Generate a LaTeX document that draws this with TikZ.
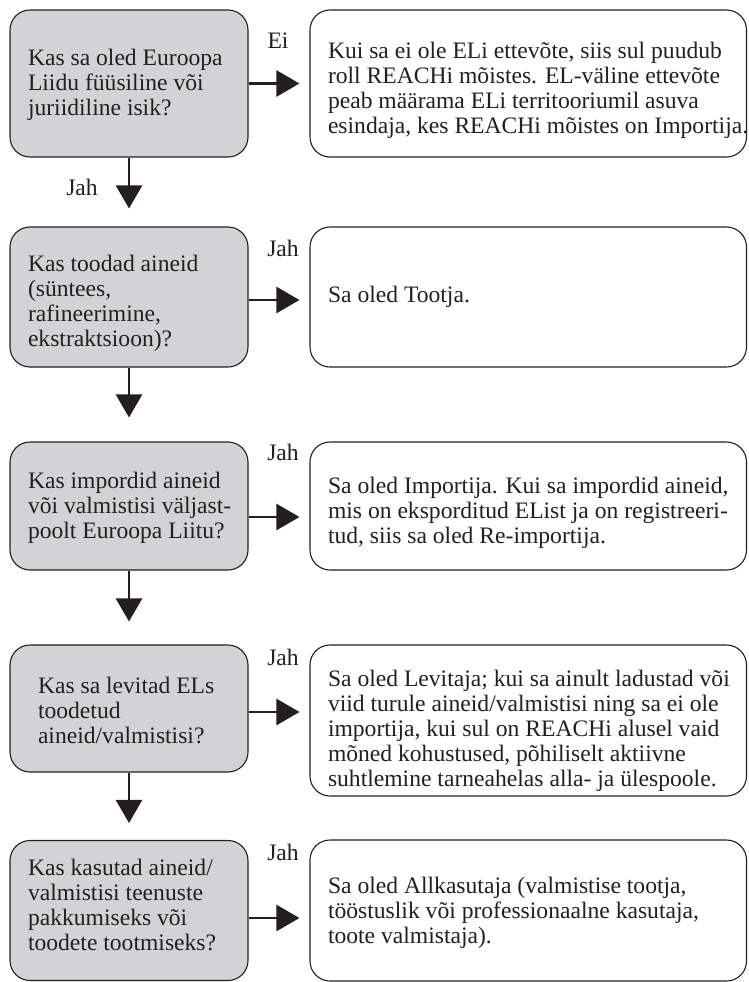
\documentclass[tikz,border=0pt]{standalone}
\usepackage{fontspec}
\setmainfont{Liberation Serif}
\usetikzlibrary{arrows.meta}
\definecolor{boxgray}{HTML}{D1D3D4}
\definecolor{ink}{HTML}{231F20}
\newcommand\btxt[3]{\makebox[#1][l]{\raisebox{#2}[\height][\depth]{\parbox[c]{440pt}{\raggedright #3}}}}
\begin{document}
\begin{tikzpicture}[x=1pt,y=-1pt,
  font=\fontsize{23.6}{25}\selectfont, color=ink,
  basebox/.style={draw=ink, line width=1.1pt, rounded corners=20pt, inner sep=0pt, text=ink},
  qbox/.style={basebox, fill=boxgray, minimum width=238pt},
  abox/.style={basebox, fill=white, minimum width=436.5pt},
  arr/.style={draw=ink, line width=2.6pt, -{Triangle[length=23pt,width=26pt]}},
  lbl/.style={inner sep=0pt, text=ink}]
\useasboundingbox (0,0) rectangle (748,982);
% question boxes
\node[qbox, minimum height=147pt] (q1) at (129,83.5) {\btxt{202pt}{-1.5pt}{Kas sa oled Euroopa\\Liidu füüsiline või\\juriidiline isik?}};
\node[qbox, minimum height=140pt] (q2) at (129,297) {\btxt{202pt}{-6pt}{Kas toodad aineid\\(süntees,\\rafineerimine,\\ekstraktsioon)?}};
\node[qbox, minimum height=128pt] (q3) at (129,506) {\btxt{202pt}{-1.5pt}{Kas impordid aineid\\või valmistisi väljast-\\poolt Euroopa Liitu?}};
\node[qbox, minimum height=127pt] (q4) at (129,708.5) {\btxt{182pt}{-1.5pt}{Kas sa levitad ELs\\toodetud\\aineid/valmistisi?}};
\node[qbox, minimum height=140pt] (q5) at (129,910.5) {\btxt{202pt}{5.5pt}{Kas kasutad aineid/\\valmistisi teenuste\\pakkumiseks või\\toodete tootmiseks?}};
% answer boxes
\node[abox, minimum height=147pt] (a1) at (528.25,83.5) {\btxt{400.5pt}{-7pt}{Kui sa ei ole ELi ettevõte, siis sul puudub\\roll REACHi mõistes. EL-väline ettevõte\\peab määrama ELi territooriumil asuva\\esindaja, kes REACHi mõistes on Importija.}};
\node[abox, minimum height=140pt] (a2) at (528.25,297) {\btxt{400.5pt}{0pt}{Sa oled Tootja.}};
\node[abox, minimum height=128pt] (a3) at (528.25,506) {\btxt{400.5pt}{-7pt}{Sa oled Importija. Kui sa impordid aineid,\\mis on eksporditud EList ja on registreeri-\\tud, siis sa oled Re-importija.}};
\node[abox, minimum height=151pt] (a4) at (528.25,720.5) {\btxt{400.5pt}{-10pt}{Sa oled Levitaja; kui sa ainult ladustad või\\viid turule aineid/valmistisi ning sa ei ole\\importija, kui sul on REACHi alusel vaid\\mõned kohustused, põhiliselt aktiivne\\suhtlemine tarneahelas alla- ja ülespoole.}};
\node[abox, minimum height=141pt] (a5) at (528.25,910.5) {\btxt{400.5pt}{-2pt}{Sa oled Allkasutaja (valmistise tootja,\\tööstuslik või professionaalne kasutaja,\\toote valmistaja).}};
% horizontal arrows
\draw[arr, shorten >=10pt] (q1.east) -- (q1.east -| a1.west);
\draw[arr, shorten >=10pt] ([yshift=-3pt]q2.east) -- ([yshift=-3pt]q2.east -| a2.west);
\draw[arr, shorten >=10pt] ([yshift=-11pt]q3.east) -- ([yshift=-11pt]q3.east -| a3.west);
\draw[arr, shorten >=10pt] ([yshift=-3.5pt]q4.east) -- ([yshift=-3.5pt]q4.east -| a4.west);
\draw[arr, shorten >=10pt] ([yshift=-7.5pt]q5.east) -- ([yshift=-7.5pt]q5.east -| a5.west);
% vertical arrows
\draw[arr, shorten >=18pt] (q1.south) -- (q2.north);
\draw[arr, shorten >=24pt] (q2.south) -- (q3.north);
\draw[arr, shorten >=23pt] (q3.south) -- (q4.north);
\draw[arr, shorten >=17pt] (q4.south) -- (q5.north);
% labels
\node[lbl] (lei) at (278,41) {Ei};
\node[lbl] (lj1) at (82,187) {Jah};
\node[lbl] (lj2) at (283,248) {Jah};
\node[lbl] (lj3) at (283,452) {Jah};
\node[lbl] (lj4) at (283,657) {Jah};
\node[lbl] (lj5) at (283,852) {Jah};
\end{tikzpicture}
\end{document}
